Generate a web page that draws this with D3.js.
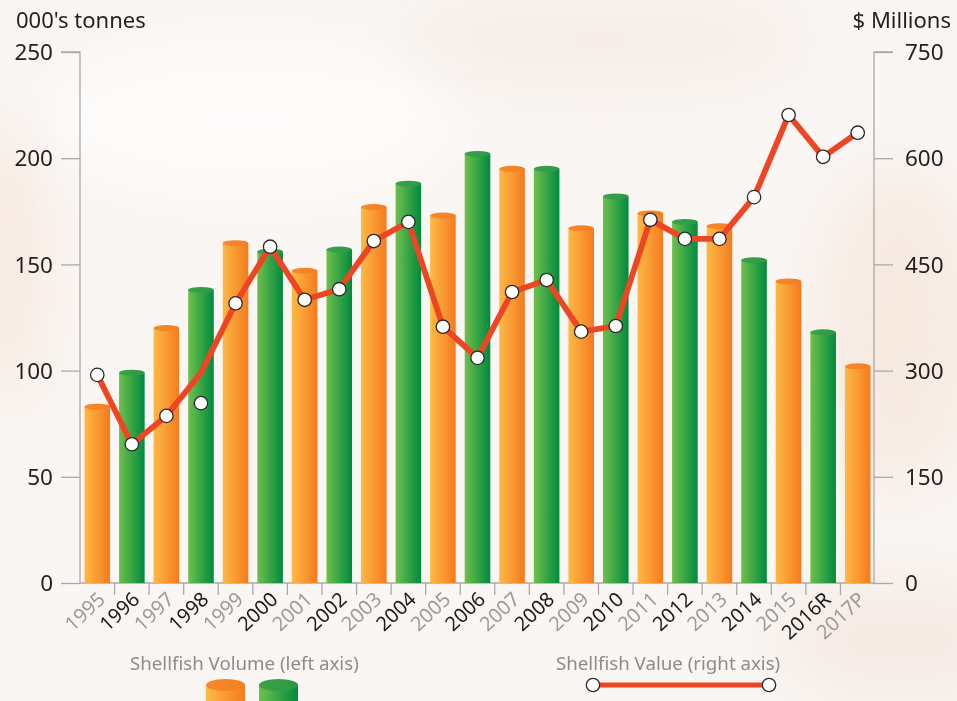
<!DOCTYPE html>
<html><head><meta charset="utf-8">
<script src="https://cdn.jsdelivr.net/npm/d3@7"></script>
<style>html,body{margin:0;padding:0;background:#faf6f3;}svg{display:block;}</style>
</head><body>
<script>
const years = ["1995","1996","1997","1998","1999","2000","2001","2002","2003","2004","2005","2006","2007","2008","2009","2010","2011","2012","2013","2014","2015","2016R","2017P"];
const volume = [83,99,120,138,160,156,147,157,177,188,173,202,195,195,167,182,174,170,168,152,142,118,102];
const valueLine = [294,196,236,297,395,475,400,415,483,510,362,318,411,428,355,363,513,486,486,545,661,602,636];
const valueMarkers = [294,196,236,254,395,475,400,415,483,510,362,318,411,428,355,363,513,486,486,545,661,602,636];
const leftTicks = [0,50,100,150,200,250];
const rightTicks = [0,150,300,450,600,750];

const W = 957, H = 701;
const FONT = "'Noto Sans', 'Open Sans', sans-serif";
const svg = d3.select("body").append("svg").attr("width", W).attr("height", H);
const defs = svg.append("defs");

// background
const blur = defs.append("filter").attr("id","blur").attr("x","-50%").attr("y","-50%").attr("width","200%").attr("height","200%");
blur.append("feGaussianBlur").attr("stdDeviation", 30);
svg.append("rect").attr("width",W).attr("height",H).attr("fill","#faf6f3");
const bg = svg.append("g").attr("filter","url(#blur)");
bg.append("ellipse").attr("cx",5).attr("cy",260).attr("rx",30).attr("ry",140).attr("fill","#f3dccb").attr("opacity",0.6);
bg.append("ellipse").attr("cx",900).attr("cy",330).attr("rx",80).attr("ry",160).attr("fill","#f4e2d6").attr("opacity",0.6);
bg.append("ellipse").attr("cx",250).attr("cy",120).attr("rx",200).attr("ry",70).attr("fill","#ffffff").attr("opacity",0.7);
bg.append("ellipse").attr("cx",600).attr("cy",40).attr("rx",200).attr("ry",40).attr("fill","#f3e6de").attr("opacity",0.6);
bg.append("ellipse").attr("cx",900).attr("cy",640).attr("rx",120).attr("ry",60).attr("fill","#f1e2d8").attr("opacity",0.6);

// gradients
function hgrad(id, c1, c2) {
  const g = defs.append("linearGradient").attr("id", id).attr("x1","0").attr("x2","1").attr("y1","0").attr("y2","0");
  g.append("stop").attr("offset","0%").attr("stop-color", c1);
  g.append("stop").attr("offset","100%").attr("stop-color", c2);
}
hgrad("gOrange", "#fdb944", "#f47b20");
hgrad("gGreen", "#6fc04c", "#008a3e");
hgrad("gOrangeTop", "#f68a2a", "#f37e22");
hgrad("gGreenTop", "#3aa34a", "#2a9945");

const x0 = 80, x1 = 875, yBase = 583, yTop = 52;
const x = d3.scaleBand().domain(years).range([x0, x1]).paddingInner(0.26).paddingOuter(0.13);
const yL = d3.scaleLinear().domain([0, 250]).range([yBase, yTop]);
const yR = d3.scaleLinear().domain([0, 750]).range([yBase, yTop]);
const step = x.step();

const axisColor = "#a9a9ad";

// left axis
const gL = svg.append("g").attr("transform", `translate(${x0},0)`)
  .call(d3.axisLeft(yL).tickValues(leftTicks).tickSize(19).tickPadding(8).tickFormat(d3.format("d")));
gL.select(".domain").attr("stroke", axisColor).attr("stroke-width",1.3).attr("d", `M-19,${yTop}H0V${yBase}`);
gL.selectAll(".tick line").attr("stroke", axisColor).attr("stroke-width",1.3);
gL.selectAll(".tick text").attr("font-family", FONT).attr("font-size", 22.5).attr("fill","#231f20").attr("x",-27).attr("dy","0.34em");

// right axis
const gR = svg.append("g").attr("transform", `translate(${x1 - 1},0)`)
  .call(d3.axisRight(yR).tickValues(rightTicks).tickSize(19).tickPadding(12).tickFormat(d3.format("d")));
gR.select(".domain").attr("stroke", axisColor).attr("stroke-width",1.3).attr("d", `M19,${yTop}H0V${yBase}`);
gR.selectAll(".tick line").attr("stroke", axisColor).attr("stroke-width",1.3);
gR.selectAll(".tick text").attr("font-family", FONT).attr("font-size", 22.5).attr("fill","#231f20").attr("x",31).attr("dy","0.34em");

// baseline
svg.append("line").attr("x1", x0).attr("x2", x1).attr("y1", yBase).attr("y2", yBase).attr("stroke", axisColor).attr("stroke-width",1.3);
// category separator ticks
svg.append("g").selectAll("line").data(years.slice(1)).join("line")
  .attr("x1", (d) => x(d) - step * x.paddingInner() / 2).attr("x2", (d) => x(d) - step * x.paddingInner() / 2)
  .attr("y1", yBase).attr("y2", yBase + 12).attr("stroke", axisColor).attr("stroke-width",1.3);

// axis titles
svg.append("text").attr("x", 16).attr("y", 28).attr("font-family", FONT).attr("font-size", 22).attr("fill","#231f20").text("000's tonnes");
svg.append("text").attr("x", 951).attr("y", 28).attr("text-anchor","end").attr("font-family", FONT).attr("font-size", 22).attr("fill","#231f20").text("$ Millions");

// bars (cylinders)
const bw = x.bandwidth(), ry = 3;
const bars = svg.append("g");
years.forEach((yr, i) => {
  const orange = i % 2 === 0;
  const bx = x(yr), top = yL(volume[i]);
  bars.append("rect").attr("x", bx).attr("y", top).attr("width", bw).attr("height", yBase - top)
    .attr("fill", orange ? "url(#gOrange)" : "url(#gGreen)");
  bars.append("ellipse").attr("cx", bx + bw / 2).attr("cy", top).attr("rx", bw / 2).attr("ry", ry)
    .attr("fill", orange ? "url(#gOrangeTop)" : "url(#gGreenTop)");
});

// x labels
svg.append("g").selectAll("text").data(years).join("text")
  .attr("transform", (d) => `translate(${x(d) + bw / 2 + 9},${yBase + 18}) rotate(-43)`)
  .attr("text-anchor","end")
  .attr("font-family", FONT).attr("font-size", 20)
  .attr("fill", (d, i) => i % 2 === 0 ? "#9b9b9b" : "#1b1b1b")
  .text((d) => d);

// value line
const lineColor = "#ee4524";
const line = d3.line().x((d, i) => x(years[i]) + bw / 2).y((d) => yR(d));
svg.append("path").datum(valueLine).attr("d", line).attr("fill","none").attr("stroke", lineColor)
  .attr("stroke-width", 5.8).attr("stroke-linejoin","miter");
svg.append("g").selectAll("circle").data(valueMarkers).join("circle")
  .attr("cx", (d, i) => x(years[i]) + bw / 2).attr("cy", (d) => yR(d)).attr("r", 6.7)
  .attr("fill","#ffffff").attr("stroke","#2a2a2a").attr("stroke-width",1.3);

// legend
const legendColor = "#8c8c8c";
svg.append("text").attr("x", 130).attr("y", 670).attr("font-family", FONT).attr("font-size", 18.7).attr("fill", legendColor).text("Shellfish Volume (left axis)");
svg.append("text").attr("x", 556).attr("y", 670).attr("font-family", FONT).attr("font-size", 18.7).attr("fill", legendColor).text("Shellfish Value (right axis)");
function legendCyl(cx, orange) {
  const w = 39, top = 685;
  svg.append("rect").attr("x", cx).attr("y", top).attr("width", w).attr("height", H - top + 5)
    .attr("fill", orange ? "url(#gOrange)" : "url(#gGreen)");
  svg.append("ellipse").attr("cx", cx + w / 2).attr("cy", top).attr("rx", w / 2).attr("ry", 6)
    .attr("fill", orange ? "url(#gOrangeTop)" : "url(#gGreenTop)");
}
legendCyl(206, true);
legendCyl(259, false);
svg.append("line").attr("x1", 593).attr("x2", 769).attr("y1", 685).attr("y2", 685).attr("stroke", lineColor).attr("stroke-width", 5);
[593, 769].forEach((cx) => svg.append("circle").attr("cx", cx).attr("cy", 685).attr("r", 6.7)
  .attr("fill","#fff").attr("stroke","#2a2a2a").attr("stroke-width",1.3));
</script>
</body></html>
